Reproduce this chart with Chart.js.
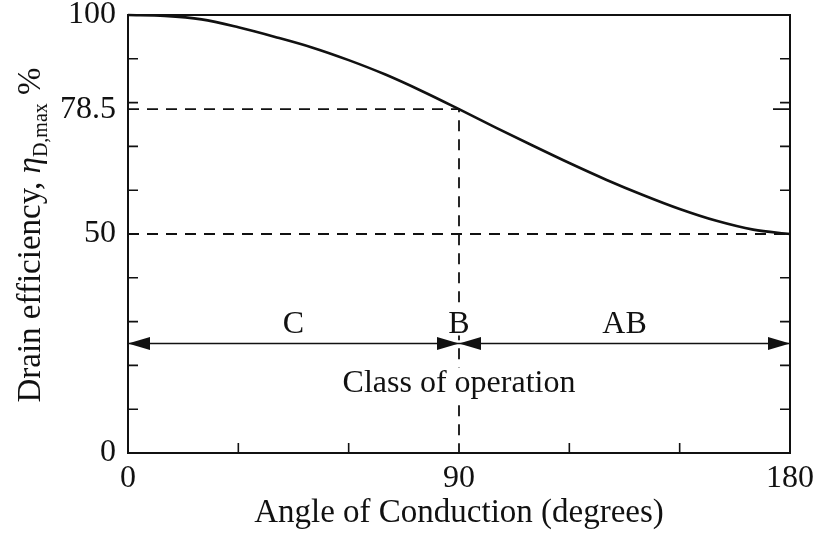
<!DOCTYPE html>
<html>
<head>
<meta charset="utf-8">
<title>Drain efficiency vs angle of conduction</title>
<script src="https://cdn.jsdelivr.net/npm/chart.js@4"></script>
<style>
  html, body { margin: 0; padding: 0; background: #fff; }
  #wrap { width: 820px; height: 535px; }
</style>
</head>
<body>
<div id="wrap"><canvas id="chart" width="820" height="535"></canvas></div>
<script>
// curve samples, angle in degrees -> max drain efficiency in %
const angleDeg = [0, 10, 20, 30, 40, 50, 60, 70, 80, 90, 100, 110, 120, 130, 140, 150, 160, 170, 180];
const efficiency = [100, 99.8, 99.0, 97.2, 95.0, 92.6, 89.7, 86.4, 82.6, 78.5, 74.3, 70.2, 66.2, 62.4, 58.9, 55.7, 53.0, 51.0, 50.0];

// reference levels (class B point and class A limit)
const classBAngle = 90;
const classBEff = 78.5;
const classAEff = 50;

// class of operation band
const arrowRow = 25;
const classBounds = [0, 90, 180];
const classNames = ["C", "B", "AB"];
const classNameAt = [45, 90, 135];

// ticks
const yLabelTicks = [0, 50, 78.5, 100];
const yMinorTicks = [10, 20, 30, 40, 50, 60, 70, 80, 90];
const xLabelTicks = [0, 90, 180];
const xMinorTicks = [30, 60, 120, 150];

const INK = "#111";
const SERIF = "'Liberation Serif', 'Times New Roman', serif";

const dash = [11, 8];

// text on a white patch so the dashed line breaks behind it
function labelOnWhite(ctx, text, cx, base, up, down) {
  const w = ctx.measureText(text).width;
  ctx.fillStyle = "#fff";
  ctx.fillRect(cx - w / 2 - 1, base - up, w + 2, up + down);
  ctx.fillStyle = INK;
  ctx.fillText(text, cx, base);
}

const extras = {
  id: "extras",
  afterDraw(chart) {
    const { ctx, chartArea: a, scales: { x, y } } = chart;
    ctx.save();

    // frame
    ctx.strokeStyle = INK;
    ctx.lineWidth = 2;
    ctx.strokeRect(a.left, a.top, a.right - a.left, a.bottom - a.top);

    // inward ticks
    ctx.lineWidth = 1.6;
    ctx.beginPath();
    yMinorTicks.forEach(v => {
      const py = y.getPixelForValue(v);
      ctx.moveTo(a.left, py); ctx.lineTo(a.left + 10, py);
      ctx.moveTo(a.right, py); ctx.lineTo(a.right - 10, py);
    });
    const pB = y.getPixelForValue(classBEff);
    ctx.moveTo(a.right, pB); ctx.lineTo(a.right - 17, pB);
    xMinorTicks.forEach(v => {
      const px = x.getPixelForValue(v);
      ctx.moveTo(px, a.bottom); ctx.lineTo(px, a.bottom - 10);
    });
    ctx.stroke();

    // arrowheads on the class band
    const ay = y.getPixelForValue(arrowRow);
    const head = (px, dir) => {
      ctx.beginPath();
      ctx.moveTo(px, ay);
      ctx.lineTo(px - dir * 22, ay - 6.5);
      ctx.lineTo(px - dir * 22, ay + 6.5);
      ctx.closePath();
      ctx.fill();
    };
    ctx.fillStyle = INK;
    head(x.getPixelForValue(classBounds[0]), -1);
    head(x.getPixelForValue(classBounds[1]), 1);
    head(x.getPixelForValue(classBounds[1]), -1);
    head(x.getPixelForValue(classBounds[2]), 1);

    // class names
    ctx.font = "32px " + SERIF;
    ctx.textAlign = "center";
    ctx.textBaseline = "alphabetic";
    classNames.forEach((n, i) => {
      labelOnWhite(ctx, n, x.getPixelForValue(classNameAt[i]), ay - 11, 23, 3);
    });
    labelOnWhite(ctx, "Class of operation", x.getPixelForValue(classBAngle), ay + 48, 24, 8);

    // x axis title
    ctx.font = "33px " + SERIF;
    ctx.fillText("Angle of Conduction (degrees)", (a.left + a.right) / 2, 522);

    // y axis title with subscript
    const parts = [
      { t: "Drain efficiency, ", f: "33px " + SERIF, dy: 0 },
      { t: "\u03b7", f: "italic 33px " + SERIF, dy: 0 },
      { t: "D,max", f: "20px " + SERIF, dy: 7 },
      { t: " %", f: "33px " + SERIF, dy: 0 }
    ];
    let total = 0;
    parts.forEach(p => { ctx.font = p.f; p.w = ctx.measureText(p.t).width; total += p.w; });
    ctx.translate(40, (a.top + a.bottom) / 2 + 1);
    ctx.rotate(-Math.PI / 2);
    ctx.textAlign = "left";
    let cx = -total / 2;
    parts.forEach(p => {
      ctx.font = p.f;
      ctx.fillText(p.t, cx, p.dy);
      cx += p.w;
    });

    ctx.restore();
  }
};

new Chart(document.getElementById("chart"), {
  type: "scatter",
  data: {
    datasets: [
      {
        data: angleDeg.map((a, i) => ({ x: a, y: efficiency[i] })),
        showLine: true,
        borderColor: INK,
        borderWidth: 2.6,
        pointRadius: 0,
        cubicInterpolationMode: "monotone",
        clip: false
      },
      {
        data: [{ x: 0, y: classBEff }, { x: classBAngle, y: classBEff }, { x: classBAngle, y: 0 }],
        showLine: true,
        borderColor: INK,
        borderWidth: 1.8,
        borderDash: dash,
        pointRadius: 0
      },
      {
        data: [{ x: 0, y: classAEff }, { x: 180, y: classAEff }],
        showLine: true,
        borderColor: INK,
        borderWidth: 1.8,
        borderDash: dash,
        pointRadius: 0
      },
      {
        data: [{ x: classBounds[0], y: arrowRow }, { x: classBounds[2], y: arrowRow }],
        showLine: true,
        borderColor: INK,
        borderWidth: 1.6,
        pointRadius: 0
      }
    ]
  },
  options: {
    responsive: false,
    animation: false,
    events: [],
    layout: { padding: { left: 0, top: 15, right: 30, bottom: 0 } },
    plugins: { legend: { display: false }, tooltip: { enabled: false } },
    scales: {
      x: {
        type: "linear",
        min: 0,
        max: 180,
        grid: { display: false, drawTicks: false },
        border: { display: false },
        ticks: {
          stepSize: 30,
          autoSkip: false,
          maxRotation: 0,
          padding: 6,
          color: INK,
          font: { family: SERIF, size: 32 },
          callback: v => (xLabelTicks.includes(v) ? String(v) : "")
        },
        afterFit(s) { s.height = 82; s.paddingLeft = 0; s.paddingRight = 0; }
      },
      y: {
        type: "linear",
        min: 0,
        max: 100,
        grid: { display: false, drawTicks: false },
        border: { display: false },
        afterBuildTicks(s) { s.ticks = yLabelTicks.map(v => ({ value: v })); },
        ticks: {
          padding: 12,
          color: INK,
          font: { family: SERIF, size: 32 },
          callback: v => String(v)
        },
        afterFit(s) { s.width = 128; s.paddingTop = 0; s.paddingBottom = 0; }
      }
    }
  },
  plugins: [extras]
});
</script>
</body>
</html>
